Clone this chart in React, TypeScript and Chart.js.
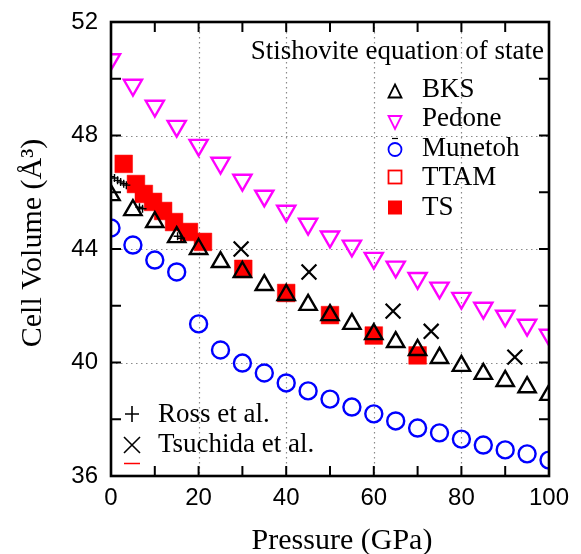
import React, { useEffect, useRef } from 'react';
import { Chart, registerables } from 'chart.js';

Chart.register(...registerables);

// ---------- data ----------
const xTickValues = [0, 20, 40, 60, 80, 100];
const yTickValues = [36, 40, 44, 48, 52];

const bksP = [0, 5, 10, 15, 20, 25, 30, 35, 40, 45, 50, 55, 60, 65, 70, 75, 80, 85, 90, 95, 100];
const bksV = [45.9, 45.37, 44.95, 44.42, 44.0, 43.54, 43.19, 42.73, 42.38, 42.03, 41.67, 41.36, 41.0, 40.72, 40.44, 40.16, 39.88, 39.6, 39.35, 39.13, 38.86];

const pedoneP = [0, 5, 10, 15, 20, 25, 30, 35, 40, 45, 50, 55, 60, 65, 70, 75, 80, 85, 90, 95, 100];
const pedoneV = [50.68, 49.78, 49.04, 48.33, 47.66, 47.03, 46.43, 45.87, 45.34, 44.88, 44.43, 44.11, 43.68, 43.37, 42.97, 42.63, 42.27, 41.92, 41.64, 41.32, 40.97];

const munetohP = [0, 5, 10, 15, 20, 25, 30, 35, 40, 45, 50, 55, 60, 65, 70, 75, 80, 85, 90, 95, 100];
const munetohV = [44.74, 44.14, 43.61, 43.19, 41.36, 40.44, 39.98, 39.63, 39.28, 39.0, 38.71, 38.43, 38.19, 37.94, 37.69, 37.52, 37.3, 37.09, 36.92, 36.78, 36.56];

const ttamP: number[] = [];
const ttamV: number[] = [];

const tsP = [2.9, 5.7, 7.5, 9.6, 11.9, 14.4, 17.8, 21.0, 30.2, 40, 50, 60, 70];
const tsV = [47.0, 46.29, 45.94, 45.66, 45.34, 44.95, 44.6, 44.25, 43.3, 42.45, 41.67, 40.95, 40.25];

const rossP = [0, 0.8, 1.5, 2.2, 2.9, 3.5, 6.5, 7.2, 15.2, 16.0];
const rossV = [46.55, 46.5, 46.42, 46.36, 46.3, 46.25, 45.47, 45.42, 44.45, 44.38];

const tsuchidaP = [29.7, 45.2, 64.4, 73.1, 92.2];
const tsuchidaV = [44.0, 43.19, 41.81, 41.1, 40.19];

const legendTitle = 'Stishovite equation of state';
const legendNames = ['BKS', 'Pedone', 'Munetoh', 'TTAM', 'TS'];
const expNames = ['Ross et al.', 'Tsuchida et al.'];
const xTitle = 'Pressure (GPa)';
const yTitle = 'Cell Volume (Å³)';

const pts = (xs: number[], ys: number[]) => xs.map((x, i) => ({ x, y: ys[i] }));

const SERIF = '"Liberation Serif", "Times New Roman", serif';
const SANS = '"Liberation Sans", Arial, sans-serif';

const decorPlugin = {
  id: 'decor',
  beforeDatasetsDraw(chart: any) {
    const { ctx, chartArea: a, scales } = chart;
    const xs = scales.x, ys = scales.y;
    ctx.save();
    ctx.strokeStyle = '#8a8a8a';
    ctx.lineWidth = 1.2;
    ctx.setLineDash([1.5, 3.5]);
    [20, 40, 60, 80].forEach((v) => {
      const px = Math.round(xs.getPixelForValue(v)) + 0.5;
      ctx.beginPath();
      ctx.moveTo(px, a.top);
      ctx.lineTo(px, a.bottom);
      ctx.stroke();
    });
    [40, 44, 48].forEach((v) => {
      const py = Math.round(ys.getPixelForValue(v)) + 0.5;
      ctx.beginPath();
      ctx.moveTo(a.left, py);
      ctx.lineTo(a.right, py);
      ctx.stroke();
    });
    ctx.restore();
  },
  afterDatasetsDraw(chart: any) {
    const { ctx, chartArea: a, scales } = chart;
    const xs = scales.x, ys = scales.y;
    ctx.save();
    // inward ticks
    ctx.strokeStyle = '#000';
    ctx.lineWidth = 2;
    const tl = 10;
    for (let v = 0; v <= 100; v += 10) {
      const px = xs.getPixelForValue(v);
      ctx.beginPath();
      ctx.moveTo(px, a.bottom);
      ctx.lineTo(px, a.bottom - tl);
      ctx.moveTo(px, a.top);
      ctx.lineTo(px, a.top + tl);
      ctx.stroke();
    }
    for (let v = 36; v <= 52; v += 2) {
      const py = ys.getPixelForValue(v);
      ctx.beginPath();
      ctx.moveTo(a.left, py);
      ctx.lineTo(a.left + tl, py);
      ctx.moveTo(a.right, py);
      ctx.lineTo(a.right - tl, py);
      ctx.stroke();
    }
    // frame
    ctx.lineWidth = 2.6;
    ctx.strokeRect(a.left, a.top, a.right - a.left, a.bottom - a.top);

    // upper legend
    ctx.fillStyle = '#000';
    ctx.font = `27px ${SERIF}`;
    ctx.textAlign = 'right';
    ctx.textBaseline = 'alphabetic';
    ctx.fillText(legendTitle, a.right - 5, 59);

    const mx = 395;
    const tx = 422;
    const rowY = [88.5, 118, 147.5, 177, 206.5];
    ctx.textAlign = 'left';
    ctx.textBaseline = 'middle';
    legendNames.forEach((name, i) => {
      ctx.fillStyle = '#000';
      ctx.fillText(name, tx, rowY[i] + 1);
    });
    ctx.lineWidth = 1.8;
    // BKS triangle
    let cy = rowY[0] + 3;
    ctx.strokeStyle = '#000';
    ctx.beginPath();
    ctx.moveTo(mx, cy - 7);
    ctx.lineTo(mx + 6.5, cy + 6);
    ctx.lineTo(mx - 6.5, cy + 6);
    ctx.closePath();
    ctx.stroke();
    // Pedone down triangle
    cy = rowY[1] + 4;
    ctx.strokeStyle = '#ff00ff';
    ctx.beginPath();
    ctx.moveTo(mx - 6.5, cy - 6);
    ctx.lineTo(mx + 6.5, cy - 6);
    ctx.lineTo(mx, cy + 7);
    ctx.closePath();
    ctx.stroke();
    // Munetoh circle
    cy = rowY[2] + 2;
    ctx.strokeStyle = '#0000ff';
    ctx.beginPath();
    ctx.arc(mx, cy, 6.5, 0, Math.PI * 2);
    ctx.stroke();
    ctx.lineWidth = 1.2;
    ctx.strokeStyle = '#000';
    ctx.beginPath();
    ctx.moveTo(mx - 3, cy - 11);
    ctx.lineTo(mx + 3, cy - 11);
    ctx.stroke();
    // TTAM open square
    ctx.lineWidth = 1.8;
    cy = rowY[3];
    ctx.strokeStyle = '#ff0000';
    ctx.strokeRect(mx - 6.5, cy - 6.5, 13, 13);
    // TS filled square
    cy = rowY[4] + 1;
    ctx.fillStyle = '#ff0000';
    ctx.fillRect(mx - 7, cy - 7, 14, 14);

    // lower legend
    ctx.fillStyle = '#000';
    ctx.font = `27px ${SERIF}`;
    ctx.textAlign = 'left';
    ctx.textBaseline = 'alphabetic';
    ctx.fillText(expNames[0], 158, 422);
    ctx.fillText(expNames[1], 158, 452);
    ctx.strokeStyle = '#000';
    ctx.lineWidth = 1.6;
    ctx.beginPath();
    ctx.moveTo(125, 414);
    ctx.lineTo(139, 414);
    ctx.moveTo(132, 406);
    ctx.lineTo(132, 422);
    ctx.stroke();
    ctx.beginPath();
    ctx.moveTo(124, 437);
    ctx.lineTo(140, 453);
    ctx.moveTo(140, 437);
    ctx.lineTo(124, 453);
    ctx.stroke();
    ctx.strokeStyle = '#ff0000';
    ctx.lineWidth = 1.5;
    ctx.beginPath();
    ctx.moveTo(124, 463.5);
    ctx.lineTo(140, 463.5);
    ctx.stroke();

    // axis titles
    ctx.fillStyle = '#000';
    ctx.font = `30px ${SERIF}`;
    ctx.textAlign = 'center';
    ctx.textBaseline = 'middle';
    ctx.fillText(xTitle, (a.left + a.right) / 2 + 12, 541);
    ctx.save();
    ctx.translate(33, 243);
    ctx.rotate(-Math.PI / 2);
    ctx.fillText(yTitle, 0, 0);
    ctx.restore();
    ctx.restore();
  },
};

export default function App() {
  const ref = useRef<HTMLCanvasElement | null>(null);
  useEffect(() => {
    if (!ref.current) return;
    const chart = new Chart(ref.current, {
      type: 'scatter',
      data: {
        datasets: [
          {
            label: 'BKS', data: pts(bksP, bksV), order: 0,
            pointStyle: 'triangle', pointRadius: 10, pointBorderWidth: 2.4,
            pointBorderColor: '#000', pointBackgroundColor: 'rgba(0,0,0,0)', showLine: false,
          },
          {
            label: 'Ross et al.', data: pts(rossP, rossV), order: 1,
            pointStyle: 'cross', pointRadius: 4, pointBorderWidth: 1.4,
            pointBorderColor: '#000', pointBackgroundColor: 'rgba(0,0,0,0)', showLine: false,
          },
          {
            label: 'Tsuchida et al.', data: pts(tsuchidaP, tsuchidaV), order: 2,
            pointStyle: 'crossRot', pointRadius: 10.5, pointBorderWidth: 2.2,
            pointBorderColor: '#000', pointBackgroundColor: 'rgba(0,0,0,0)', showLine: false,
          },
          {
            label: 'Pedone', data: pts(pedoneP, pedoneV), order: 3,
            pointStyle: 'triangle', pointRotation: 180, pointRadius: 10.5, pointBorderWidth: 2.4,
            pointBorderColor: '#ff00ff', pointBackgroundColor: 'rgba(0,0,0,0)', showLine: false,
          },
          {
            label: 'Munetoh', data: pts(munetohP, munetohV), order: 4,
            pointStyle: 'circle', pointRadius: 8.5, pointBorderWidth: 2.4,
            pointBorderColor: '#0000ff', pointBackgroundColor: 'rgba(0,0,0,0)', showLine: false,
          },
          {
            label: 'TTAM', data: pts(ttamP, ttamV), order: 5,
            pointStyle: 'rect', pointRadius: 12, pointBorderWidth: 2,
            pointBorderColor: '#ff0000', pointBackgroundColor: 'rgba(0,0,0,0)', showLine: false,
          },
          {
            label: 'TS', data: pts(tsP, tsV), order: 6,
            pointStyle: 'rect', pointRadius: 12.5, pointBorderWidth: 0.5,
            pointBorderColor: '#ff0000', pointBackgroundColor: '#ff0000', showLine: false,
          },
        ],
      },
      options: {
        responsive: false,
        animation: false,
        events: [],
        layout: { padding: { top: 22, right: 32, left: 0, bottom: 0 } },
        plugins: { legend: { display: false }, tooltip: { enabled: false } },
        scales: {
          x: {
            type: 'linear', min: 0, max: 100,
            grid: { display: false, drawTicks: false },
            border: { display: false },
            ticks: {
              stepSize: 20, color: '#000', padding: 8, maxRotation: 0,
              font: { family: SANS, size: 24 },
              callback: (v: any) => (xTickValues.includes(Number(v)) ? String(v) : ''),
            },
            afterFit: (s: any) => { s.height = 78; s.paddingLeft = 0; s.paddingRight = 0; },
          },
          y: {
            type: 'linear', min: 36, max: 52,
            grid: { display: false, drawTicks: false },
            border: { display: false },
            ticks: {
              stepSize: 4, color: '#000', padding: 13,
              font: { family: SANS, size: 24 },
              callback: (v: any) => (yTickValues.includes(Number(v)) ? String(v) : ''),
            },
            afterFit: (s: any) => { s.width = 111; s.paddingTop = 0; s.paddingBottom = 0; },
          },
        },
      },
      plugins: [decorPlugin],
    } as any);
    return () => chart.destroy();
  }, []);
  return (
    <div style={{ position: 'absolute', left: 0, top: 0, width: 581, height: 554, background: '#fff' }}>
      <canvas ref={ref} width={581} height={554} style={{ display: 'block' }} />
    </div>
  );
}
